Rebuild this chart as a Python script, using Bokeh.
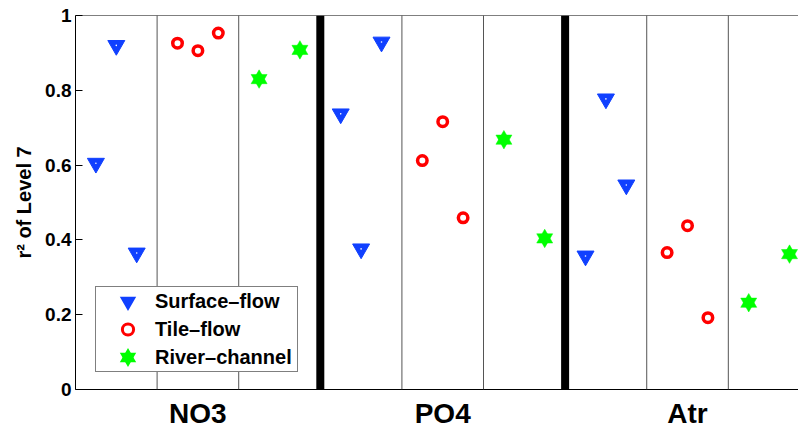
import math
from bokeh.plotting import figure
from bokeh.models import (Range1d, FixedTicker, NumeralTickFormatter, Span,
                          Legend, LegendItem)
from bokeh.embed import file_html
from bokeh.resources import INLINE

# ---- data -------------------------------------------------------------
groups = ["NO3", "PO4", "Atr"]
series_labels = ["Surface–flow", "Tile–flow", "River–channel"]
nan = float("nan")
surface = [0.605, 0.920, 0.365, 0.737, 0.376, 0.929, 0.357, 0.777, 0.547]
tile = [0.926, 0.906, 0.953, 0.612, 0.716, 0.459, 0.366, 0.438, 0.192]
river = [0.830, nan, 0.908, 0.668, nan, 0.404, 0.232, nan, 0.362]
y_ticks = [0, 0.2, 0.4, 0.6, 0.8, 1]

n_series = 3
pts_per_series = 3
slot = pts_per_series + 1           # width of one sub-section
group_w = slot * n_series           # width of one group

BLUE = "#1040ff"
RED = "#ff0000"
GREEN = "#00ff00"


def xpos(s):
    return [group_w * g + slot * s + k + 1
            for g in range(len(groups)) for k in range(pts_per_series)]


FONT = "Liberation Sans"

p = figure(width=798, height=431,
           x_range=Range1d(0, 35.44), y_range=Range1d(0, 1),
           output_backend="svg", toolbar_location=None,
           min_border_left=75, min_border_right=0,
           min_border_top=15, min_border_bottom=42)
p.grid.visible = False
p.outline_line_color = None
p.background_fill_color = "white"
p.border_fill_color = "white"

# section separators
for g in range(len(groups)):
    for s in range(1, n_series):
        p.add_layout(Span(location=g * group_w + s * slot, dimension="height",
                          line_color="#555555", line_width=1))
    if g > 0:
        p.add_layout(Span(location=g * group_w, dimension="height",
                          line_color="black", line_width=8))
# top border
p.add_layout(Span(location=1, dimension="width", line_color="black", line_width=1))

# markers
r_s = p.scatter(xpos(0), surface, marker="inverted_triangle", size=17,
                fill_color=BLUE, line_color=BLUE, line_width=1)
r_sd = p.scatter(xpos(0), surface, marker="circle", size=1.6,
                 fill_color="white", line_color=None)
r_t = p.scatter(xpos(1), tile, marker="circle", size=9.5,
                fill_color="white", line_color=RED, line_width=3.5)
r_r1 = p.scatter(xpos(2), river, marker="triangle", size=16,
                 fill_color=GREEN, line_color=GREEN, line_width=0.5)
r_r2 = p.scatter(xpos(2), river, marker="inverted_triangle", size=16,
                 fill_color=GREEN, line_color=GREEN, line_width=0.5)

# legend-key renderers (a single NaN point: only drawn inside the legend)
k_s = p.scatter([nan], [nan], marker="inverted_triangle", fill_color=BLUE,
                line_color=BLUE, line_width=3, line_join="miter")
k_t = p.scatter([nan], [nan], marker="circle", fill_color="white",
                line_color=RED, line_width=3)
k_r1 = p.scatter([nan], [nan], marker="triangle", fill_color=GREEN,
                 line_color=GREEN, line_width=3, line_join="miter")
k_r2 = p.scatter([nan], [nan], marker="inverted_triangle", fill_color=GREEN,
                 line_color=GREEN, line_width=3, line_join="miter")

legend = Legend(items=[
    LegendItem(label=series_labels[0], renderers=[k_s]),
    LegendItem(label=series_labels[1], renderers=[k_t]),
    LegendItem(label=series_labels[2], renderers=[k_r1, k_r2]),
], location=(20, 17))
legend.padding = dict(left=5, right=5, top=0, bottom=0)
legend.spacing = 0
legend.margin = 0
legend.glyph_width = 53
legend.glyph_height = 28
legend.label_height = 28
legend.label_standoff = 1
legend.border_line_color = "black"
legend.border_line_width = 1
legend.background_fill_color = "white"
legend.background_fill_alpha = 1
legend.label_text_font = FONT
legend.label_text_font_style = "bold"
legend.label_text_font_size = "20px"
legend.label_text_color = "black"
p.add_layout(legend)

# x axis
xa = p.xaxis[0]
xa.ticker = FixedTicker(ticks=[group_w * g + group_w / 2 for g in range(len(groups))])
xa.major_label_overrides = {group_w * g + group_w / 2: name for g, name in enumerate(groups)}
xa.major_tick_line_color = None
xa.minor_tick_line_color = None
xa.axis_line_color = "black"
xa.axis_line_width = 1
xa.major_label_standoff = 2
xa.major_label_text_font = FONT
xa.major_label_text_font_style = "bold"
xa.major_label_text_font_size = "28px"
xa.major_label_text_color = "black"

# y axis
ya = p.yaxis[0]
ya.ticker = FixedTicker(ticks=y_ticks)
ya.formatter = NumeralTickFormatter(format="0.[0]")
ya.major_tick_in = 7
ya.major_tick_out = 0
ya.minor_tick_line_color = None
ya.major_tick_line_color = "black"
ya.axis_line_color = "black"
ya.axis_line_width = 1
ya.major_label_standoff = 4
ya.major_label_text_font = FONT
ya.major_label_text_font_style = "bold"
ya.major_label_text_font_size = "19px"
ya.major_label_text_color = "black"
ya.axis_label = "r² of Level 7"
ya.axis_label_text_font = FONT
ya.axis_label_text_font_style = "bold"
ya.axis_label_text_font_size = "20px"
ya.axis_label_text_color = "black"
ya.axis_label_standoff = 7

open("out.html", "w").write(file_html(p, INLINE))
